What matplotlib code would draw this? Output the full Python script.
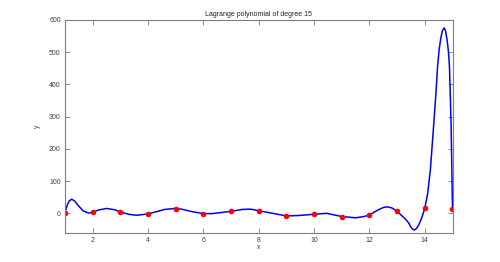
import matplotlib
matplotlib.use("Agg")
import matplotlib.pyplot as plt

# Data points (nodes)
node_x = [1, 2, 3, 4, 5, 6, 7, 8, 9, 10, 11, 12, 13, 14, 15]
node_y = [2, 3, 4, -2, 14, -1, 6, 8, -8, -3, -11, -5, 6, 16, 12]

# Polynomial curve samples
curve_x = [1.00, 1.04, 1.08, 1.15, 1.24, 1.35, 1.50, 1.65, 1.84, 2.00, 2.20, 2.50, 2.80,
           3.00, 3.30, 3.57, 3.80, 4.00, 4.30, 4.60, 4.95, 5.20, 5.60, 6.00, 6.30,
           6.70, 7.00, 7.40, 7.70, 8.00, 8.50, 9.00, 9.40, 10.00, 10.45, 11.00,
           11.50, 11.80, 12.00, 12.30, 12.50, 12.64, 12.80, 12.90, 13.00, 13.10, 13.20,
           13.30, 13.42, 13.50, 13.56, 13.62, 13.70, 13.78, 13.85, 13.92, 14.00,
           14.10, 14.20, 14.33, 14.40, 14.46, 14.52, 14.58, 14.64, 14.70, 14.75,
           14.80, 14.85, 14.89, 14.92, 14.95, 14.98, 15.00]
curve_y = [2, 14, 25, 38, 44, 38, 22, 8, 1, 3, 10, 15, 11,
           4, -3, -6, -4, -2, 5, 12, 15, 13, 5, -1, -1,
           3, 6, 12, 13, 8, 0, -8, -7, -3, 0, -10,
           -14, -10, -5, 10, 18, 20, 17, 12, 6, -2, -10,
           -18, -30, -43, -49, -52, -47, -36, -22, -6, 16,
           60, 134, 286, 370, 455, 510, 545, 568, 575, 565,
           540, 505, 455, 370, 271, 120, 12]

xticks = [2, 4, 6, 8, 10, 12, 14]
yticks = [0, 100, 200, 300, 400, 500, 600]

plt.rcParams['font.family'] = ['Liberation Sans', 'DejaVu Sans']

fig = plt.figure(figsize=(5.0, 2.62), dpi=100)
ax = fig.add_axes([0.13, 0.112, 0.775, 0.812])

ax.plot(curve_x, curve_y, color='#0000ff', linewidth=1.1)
ax.plot(node_x, node_y, 'o', color='#ff0000', markersize=4, markeredgewidth=0)

ax.set_xlim(1, 15)
ax.set_ylim(-60, 600)
ax.set_xticks(xticks)
ax.set_yticks(yticks)

gray = '#7f7f7f'
for s in ax.spines.values():
    s.set_color(gray)
    s.set_linewidth(0.8)
ax.tick_params(direction='in', length=3.5, width=0.6, colors=gray,
               labelsize=5, labelcolor='#404040',
               top=True, right=True, pad=3)

ax.set_title('Lagrange polynomial of degree 15', fontsize=5, color='#202020', pad=3)
ax.set_xlabel('x', fontsize=5, color='#404040', labelpad=0)
ax.set_ylabel('y', fontsize=5, color='#404040', labelpad=6)

fig.savefig('out.png', dpi=100, facecolor='white')
